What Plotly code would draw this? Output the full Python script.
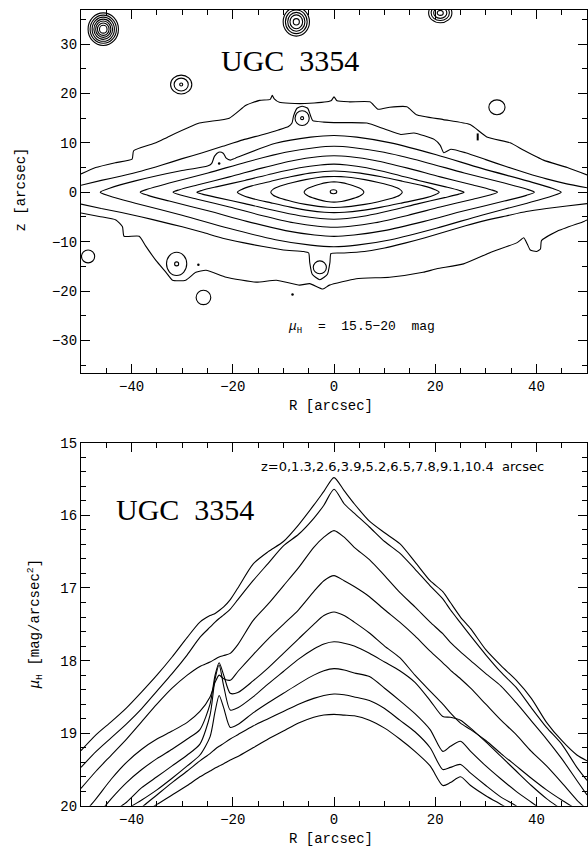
import plotly.graph_objects as go

# ---------------- bottom panel: vertical-cut profiles ----------------
R_GRID = [-50, -47, -44, -41, -38, -35, -32, -29, -26.5, -24.5, -23.5, -22.7, -21.8, -20.5,
          -19, -16, -13, -10, -7, -4, -2, 0, 2, 4, 7, 10, 13, 16, 19, 21.5, 23, 25, 27,
          30, 33, 36, 39, 42, 45, 48, 50]
Z_CUTS = [0, 1.3, 2.6, 3.9, 5.2, 6.5, 7.8, 9.1, 10.4]
MU_Z00 = [19.24, 19.02, 18.84, 18.65, 18.43, 18.20, 17.95, 17.68, 17.47, 17.38, 17.35, 17.31, 17.26, 17.16,
          17.00, 16.67, 16.50, 16.36, 16.13, 15.86, 15.67, 15.48, 15.66, 15.84, 16.08, 16.24, 16.39, 16.64, 16.90,
          17.05, 17.20, 17.40, 17.56, 17.85, 18.07, 18.27, 18.52, 18.85, 19.10, 19.30, 19.38]
MU_Z13 = [19.47, 19.25, 19.06, 18.87, 18.66, 18.42, 18.18, 17.92, 17.68, 17.54, 17.47, 17.42, 17.37, 17.29,
          17.16, 16.90, 16.66, 16.42, 16.26, 16.04, 15.86, 15.64, 15.84, 15.97, 16.16, 16.36, 16.52, 16.74, 16.97,
          17.15, 17.30, 17.48, 17.66, 17.92, 18.16, 18.37, 18.65, 18.92, 19.15, 19.47, 19.65]
MU_Z26 = [19.76, 19.52, 19.30, 19.08, 18.84, 18.60, 18.38, 18.20, 18.08, 18.02, 17.98, 17.95, 17.93, 17.90,
          17.78, 17.45, 17.22, 16.97, 16.72, 16.44, 16.30, 16.21, 16.30, 16.44, 16.61, 16.83, 17.06, 17.26, 17.47,
          17.63, 17.75, 17.88, 18.00, 18.18, 18.35, 18.58, 18.83, 19.08, 19.35, 19.65, 19.85]
MU_Z39 = [20.15, 19.90, 19.63, 19.40, 19.22, 19.08, 18.97, 18.85, 18.70, 18.50, 18.30, 18.20, 18.25, 18.27,
          18.15, 17.92, 17.70, 17.50, 17.30, 17.05, 16.90, 16.83, 16.90, 16.98, 17.12, 17.30, 17.47, 17.66, 17.87,
          18.03, 18.13, 18.25, 18.38, 18.60, 18.82, 19.02, 19.25, 19.45, 19.68, 19.92, 20.05]
MU_Z52 = [20.40, 20.15, 19.90, 19.68, 19.50, 19.35, 19.22, 19.08, 18.95, 18.60, 18.20, 18.03, 18.20, 18.45,
          18.44, 18.28, 18.10, 17.90, 17.70, 17.50, 17.38, 17.33, 17.38, 17.47, 17.62, 17.80, 17.96, 18.20, 18.42,
          18.60, 18.72, 18.86, 18.95, 19.10, 19.28, 19.45, 19.62, 19.78, 19.92, 20.05, 20.15]
MU_Z65 = [20.50, 20.30, 20.10, 19.95, 19.75, 19.60, 19.45, 19.30, 19.15, 18.75, 18.25, 18.06, 18.35, 18.68,
          18.65, 18.50, 18.32, 18.15, 17.98, 17.84, 17.77, 17.74, 17.76, 17.80, 17.90, 18.02, 18.14, 18.30, 18.55,
          18.77, 18.78, 18.82, 18.93, 19.12, 19.32, 19.52, 19.72, 19.90, 20.05, 20.20, 20.30]
MU_Z78 = [20.60, 20.42, 20.25, 20.05, 19.92, 19.78, 19.62, 19.45, 19.30, 19.05, 18.70, 18.48, 18.65, 18.92,
          18.88, 18.72, 18.58, 18.45, 18.32, 18.20, 18.14, 18.11, 18.13, 18.17, 18.22, 18.38, 18.55, 18.73, 18.95,
          19.25, 19.18, 19.11, 19.25, 19.45, 19.63, 19.80, 19.95, 20.10, 20.25, 20.40, 20.50]
MU_Z91 = [20.70, 20.55, 20.40, 20.20, 20.02, 19.85, 19.68, 19.52, 19.38, 19.28, 19.22, 19.18, 19.14, 19.08,
          19.02, 18.90, 18.80, 18.70, 18.60, 18.52, 18.48, 18.46, 18.47, 18.50, 18.55, 18.66, 18.82, 18.98, 19.20,
          19.50, 19.47, 19.43, 19.55, 19.72, 19.88, 20.00, 20.15, 20.30, 20.45, 20.60, 20.70]
MU_Z104 = [20.80, 20.65, 20.50, 20.30, 20.12, 19.98, 19.85, 19.72, 19.60, 19.52, 19.48, 19.45, 19.42, 19.37,
           19.32, 19.20, 19.08, 18.97, 18.86, 18.78, 18.75, 18.74, 18.75, 18.76, 18.82, 18.93, 19.08, 19.25, 19.45,
           19.72, 19.68, 19.60, 19.72, 19.86, 19.98, 20.10, 20.22, 20.35, 20.50, 20.60, 20.70]

# ---------------- top panel: isophotes (R, z in arcsec) ----------------
CONTOUR_LEVELS = [15.5, 16, 16.5, 17, 17.5, 18, 18.5, 19, 19.5, 20]

C16_R = [-5.9, -5.66, -5.02, -3.84, -2.66, -1.48, -0.59, 0, 0.59, 1.48, 2.66, 3.84, 5.02, 5.66, 5.9]
C16_ZU = [0, 0.42, 0.84, 1.3, 1.68, 1.95, 2.08, 2.1, 2.08, 1.95, 1.68, 1.3, 0.84, 0.42, 0]
C16_ZL = [0, -0.4, -0.8, -1.24, -1.6, -1.86, -1.98, -2.0, -1.98, -1.86, -1.6, -1.24, -0.8, -0.4, 0]

C165_R = [-12.5, -12.0, -10.63, -8.13, -5.63, -3.13, -1.25, 0, 1.35, 3.38, 6.08, 8.78, 11.48, 12.96, 13.5]
C165_ZU = [0, 0.64, 1.28, 1.98, 2.56, 2.98, 3.17, 3.2, 3.17, 2.98, 2.56, 1.98, 1.28, 0.64, 0]
C165_ZL = [0, -0.62, -1.23, -1.91, -2.46, -2.86, -3.05, -3.08, -3.05, -2.86, -2.46, -1.91, -1.23, -0.62, 0]

C17_R = [-19.1, -18.34, -16.24, -12.42, -8.6, -4.78, -1.91, 0, 2.08, 5.2, 9.36, 13.52, 17.68, 19.97, 20.8]
C17_ZU = [0, 0.52, 1.29, 2.24, 3.14, 3.87, 4.21, 4.3, 4.21, 3.87, 3.14, 2.24, 1.29, 0.52, 0]
C17_ZL = [0, -0.5, -1.24, -2.15, -3.01, -3.72, -4.05, -4.13, -4.05, -3.72, -3.01, -2.15, -1.24, -0.5, 0]

C175_R = [-27.1, -26.02, -23.04, -17.62, -12.2, -6.78, -2.71, 0, 2.57, 6.43, 11.57, 16.71, 21.85, 24.67, 25.7]
C175_ZU = [0, 0.4, 1.14, 2.39, 3.76, 4.96, 5.53, 5.7, 5.53, 4.96, 3.76, 2.39, 1.14, 0.4, 0]
C175_ZL = [0, -0.38, -1.09, -2.3, -3.61, -4.76, -5.31, -5.47, -5.31, -4.76, -3.61, -2.3, -1.09, -0.38, 0]

C18_R = [-31.8, -30.53, -27.03, -20.67, -14.31, -7.95, -3.18, 0, 3.23, 8.08, 14.54, 21.0, 27.46, 31.01, 32.3]
C18_ZU = [0, 0.52, 1.48, 3.11, 4.88, 6.44, 7.18, 7.4, 7.18, 6.44, 4.88, 3.11, 1.48, 0.52, 0]
C18_ZL = [0, -0.5, -1.42, -2.98, -4.69, -6.18, -6.89, -7.1, -6.89, -6.18, -4.69, -2.98, -1.42, -0.5, 0]

C185_R = [-38.3, -36.77, -32.56, -24.9, -17.24, -9.58, -3.83, 0, 3.96, 9.9, 17.82, 25.74, 33.66, 38.02, 39.6]
C185_ZU = [0, 0.65, 1.86, 3.91, 6.14, 8.09, 9.02, 9.3, 9.02, 8.09, 6.14, 3.91, 1.86, 0.65, 0]
C185_ZL = [0, -0.63, -1.79, -3.75, -5.89, -7.77, -8.66, -8.93, -8.66, -7.77, -5.89, -3.75, -1.79, -0.63, 0]

C19_RU = [-46.2, -44.35, -39.27, -30.03, -25.0, -24.2, -23.6, -22.8, -21.9, -21.3, -20.5, -19.5, -11.55,
          -4.62, 0, 4.49, 11.23, 20.21, 29.19, 38.17, 43.1, 44.9]
C19_ZU = [0, 0.81, 2.3, 4.4, 5.3, 5.8, 7.3, 8.1, 7.9, 6.9, 6.5, 6.9, 9.9, 11.16, 11.5, 11.16, 10.0, 7.59,
          4.83, 2.3, 0.81, 0]
C19_RL = [-46.2, -44.35, -39.27, -30.03, -20.79, -11.55, -4.62, 0, 4.49, 11.23, 20.21, 29.19, 38.17, 43.1, 44.9]
C19_ZL = [0, -0.77, -2.21, -4.64, -7.29, -9.6, -10.71, -11.04, -10.71, -9.6, -7.29, -4.64, -2.21, -0.77, 0]

C195_RU = [-50, -46, -42, -38, -34, -30, -26, -22, -18, -14, -11, -9, -8.3, -8.0, -7.3, -6.3, -5.2, -4.6,
           -4.2, -2, 0, 3, 6.5, 10, 13.2, 15.8, 19.8, 21.0, 21.7, 23.1, 26, 30, 34, 38, 42, 46, 50]
C195_ZU = [1.4, 2.4, 3.3, 4.3, 5.5, 6.8, 8.0, 9.3, 10.6, 11.7, 12.6, 13.3, 14.0, 15.4, 17.0, 17.4, 17.0, 15.4,
           14.5, 14.2, 14.1, 14.1, 14.0, 12.8, 11.7, 12.0, 10.7, 9.5, 8.0, 8.7, 8.0, 6.6, 5.2, 3.9, 2.7, 1.7, 0.9]
C195_RL = [-50, -46, -42, -38, -34, -30, -26, -22, -18, -14, -10, -6, -5.0, -4.8, -4.3, -2.8, -1.3, -0.8,
           -0.6, 2, 6, 10, 14, 18, 22, 26, 30, 34, 38, 42, 46, 50]
C195_ZL = [-2.4, -3.3, -4.1, -5.0, -6.0, -7.0, -8.1, -9.3, -10.2, -11.0, -11.7, -12.0, -12.3, -14.2, -16.6,
           -17.7, -16.6, -14.2, -12.4, -12.3, -12.0, -11.3, -10.3, -9.2, -8.0, -6.8, -5.7, -4.8, -3.9, -3.3,
           -2.8, -2.3]

C20_RU = [-50, -47.1, -43.1, -39.9, -39.6, -35.2, -32.6, -26.6, -20.7, -17.4, -14.7, -12.6, -12.2, -11.8,
          -10.8, -8.8, -4.8, -0.6, 0, 0.6, 3.1, 7.1, 8.7, 11, 14.4, 16.3, 21.6, 26.9, 30.2, 34.8, 37.5, 41.4,
          46.1, 50]
C20_ZU = [3.7, 5.0, 6.0, 6.7, 8.4, 10.0, 11.3, 14.0, 15.0, 17.6, 18.6, 18.8, 19.6, 18.9, 18.2, 18.0, 18.0,
          18.5, 19.3, 18.5, 18.3, 18.3, 16.8, 17.2, 17.3, 15.7, 14.7, 13.7, 11.2, 10.0, 8.5, 6.5, 5.0, 3.5]
C20_RL = [-50, -46.4, -43.1, -41.8, -41.5, -38.5, -37.2, -35.2, -33.2, -31.9, -29.3, -27.3, -25.3, -21.3,
          -15.4, -11.4, -6.8, -4.8, -2.2, -0.9, 4.4, 11, 17.6, 20.3, 25.6, 30.9, 36.2, 37.5, 38.2, 38.8, 40.0,
          40.8, 41.0, 44.1, 49.4, 50]
C20_ZL = [-4.2, -4.9, -5.6, -7.0, -8.9, -8.9, -10.9, -13.8, -16.2, -17.8, -17.8, -16.2, -15.8, -17.2, -18.2,
          -17.8, -18.8, -18.5, -19.6, -18.8, -17.5, -17.2, -16.2, -15.5, -14.5, -12.2, -10.2, -9.2, -10.5, -11.7,
          -12.0, -11.5, -9.8, -7.9, -5.9, -5.6]

# small closed isophotes (stars, knots, the 15.5 mag core): centre and semi-axes in arcsec
RING_R = [-45.6] * 7 + [-7.45] * 5 + [21.0] * 4 + [-30.2] * 3 + [-6.3] * 2 + [-31.1] * 2 + \
         [-48.6, -25.8, -2.8, 32.2, -0.1]
RING_Z = [33.0] * 7 + [34.5] * 5 + [36.3] * 4 + [21.8] * 3 + [15.0] * 2 + [-14.5] * 2 + \
         [-13.0, -21.3, -15.2, 17.2, 0.1]
RING_RX = [3.0, 2.6, 2.2, 1.85, 1.5, 1.15, 0.75,
           2.6, 2.15, 1.7, 1.25, 0.6,
           2.3, 1.8, 1.3, 0.6,
           2.1, 1.4, 0.3,
           1.4, 0.3,
           2.0, 0.4,
           1.3, 1.45, 1.3, 1.6, 0.65]
RING_RY = [3.3, 2.85, 2.45, 2.05, 1.65, 1.25, 0.8,
           2.9, 2.4, 1.9, 1.4, 0.65,
           2.0, 1.55, 1.1, 0.5,
           1.9, 1.3, 0.3,
           1.5, 0.3,
           2.35, 0.4,
           1.3, 1.45, 1.3, 1.5, 0.4]
DOT_R = [-22.7, -26.8, -8.2]
DOT_Z = [5.8, -14.7, -20.7]
DASH_R = [28.4]
DASH_Z = [11.2]

LINE = dict(color="black", width=1.1)
fig = go.Figure()

# profiles
for mu in [MU_Z00, MU_Z13, MU_Z26, MU_Z39, MU_Z52, MU_Z65, MU_Z78, MU_Z91, MU_Z104]:
    fig.add_trace(go.Scatter(x=R_GRID, y=mu, mode="lines", xaxis="x2", yaxis="y2",
                             line=dict(LINE, shape="spline", smoothing=0.7),
                             hoverinfo="skip", showlegend=False))

# closed isophotes
closed = [(C16_R, C16_ZU, C16_R, C16_ZL), (C165_R, C165_ZU, C165_R, C165_ZL),
          (C17_R, C17_ZU, C17_R, C17_ZL), (C175_R, C175_ZU, C175_R, C175_ZL),
          (C18_R, C18_ZU, C18_R, C18_ZL), (C185_R, C185_ZU, C185_R, C185_ZL),
          (C19_RU, C19_ZU, C19_RL, C19_ZL)]
for ru, zu, rl, zl in closed:
    xs = list(ru) + list(rl[::-1])[1:]
    ys = list(zu) + list(zl[::-1])[1:]
    fig.add_trace(go.Scatter(x=xs, y=ys, mode="lines", xaxis="x", yaxis="y",
                             line=dict(LINE, shape="spline", smoothing=0.8),
                             hoverinfo="skip", showlegend=False))

# open outer isophotes
for rr, zz in [(C195_RU, C195_ZU), (C195_RL, C195_ZL), (C20_RU, C20_ZU), (C20_RL, C20_ZL)]:
    fig.add_trace(go.Scatter(x=rr, y=zz, mode="lines", xaxis="x", yaxis="y",
                             line=dict(LINE, shape="spline", smoothing=0.5),
                             hoverinfo="skip", showlegend=False))

fig.add_trace(go.Scatter(x=DOT_R, y=DOT_Z, mode="markers", xaxis="x", yaxis="y",
                         marker=dict(color="black", size=2.5), hoverinfo="skip", showlegend=False))
fig.add_trace(go.Scatter(x=DASH_R, y=DASH_Z, mode="markers", xaxis="x", yaxis="y",
                         marker=dict(symbol="line-ns", size=5, line=dict(color="black", width=2)),
                         hoverinfo="skip", showlegend=False))

shapes = []
for cx, cy, rx, ry in zip(RING_R, RING_Z, RING_RX, RING_RY):
    shapes.append(dict(type="circle", xref="x", yref="y", x0=cx - rx, x1=cx + rx, y0=cy - ry, y1=cy + ry,
                       line=dict(color="black", width=1.1), layer="above"))

TICKFONT = dict(family="Liberation Mono", size=14, color="black")
AX = dict(showline=True, linecolor="black", linewidth=1.2, mirror="allticks", ticks="inside",
          ticklen=9, tickwidth=1.2, tickcolor="black", showgrid=False, zeroline=False,
          tickfont=TICKFONT)
XDOM = [81 / 588, 587 / 588]
MINOR = dict(ticks="inside", ticklen=5, tickcolor="black", tickwidth=1.2)

fig.update_layout(
    width=588, height=860, margin=dict(l=0, r=0, t=0, b=0),
    paper_bgcolor="white", plot_bgcolor="white", showlegend=False,
    xaxis=dict(AX, domain=XDOM, range=[-50, 50], dtick=20, tick0=0, anchor="y",
               minor=dict(MINOR, dtick=5, tick0=0)),
    yaxis=dict(AX, domain=[1 - 373 / 860, 1 - 3 / 860], range=[-36.6, 36.9], dtick=10, tick0=0, anchor="x",
               minor=dict(MINOR, dtick=5, tick0=0)),
    xaxis2=dict(AX, domain=XDOM, range=[-50, 50], dtick=20, tick0=0, anchor="y2",
                minor=dict(MINOR, dtick=5, tick0=0)),
    yaxis2=dict(AX, domain=[1 - 814 / 860, 1 - 444 / 860], range=[20, 15], dtick=1, tick0=15, anchor="x2",
                minor=dict(MINOR, dtick=0.2, tick0=15)),
    shapes=shapes,
)

NB = "\u00a0"
ann = [
    dict(text="UGC" + NB * 2 + "3354", x=290 / 588, y=1 - 55 / 860,
         font=dict(family="Liberation Serif", size=30, color="black")),
    dict(text="UGC" + NB * 2 + "3354", x=185 / 588, y=1 - 512 / 860,
         font=dict(family="Liberation Serif", size=30, color="black")),
    dict(text="<i>μ</i><sub>H</sub>" + NB * 2 + "=" + NB * 2 + "15.5−20" + NB * 2 + "mag",
         x=361 / 588, y=1 - 327 / 860, font=dict(family="Liberation Mono", size=13, color="black")),
    dict(text="z=" + ",".join(str(v) for v in Z_CUTS) + NB * 2 + "arcsec",
         x=402 / 588, y=1 - 468 / 860, font=dict(family="DejaVu Sans", size=13, color="black")),
    dict(text="R [arcsec]", x=331 / 588, y=1 - 407 / 860,
         font=dict(family="Liberation Mono", size=14, color="black")),
    dict(text="R [arcsec]", x=331 / 588, y=1 - 848 / 860,
         font=dict(family="Liberation Mono", size=14, color="black")),
    dict(text="z [arcsec]", x=21 / 588, y=1 - 186 / 860, textangle=-90,
         font=dict(family="Liberation Mono", size=14, color="black")),
    dict(text="<i>μ</i><sub>H</sub> [mag/arcsec<sup>2</sup>]", x=35 / 588, y=1 - 629 / 860, textangle=-90,
         font=dict(family="Liberation Mono", size=14, color="black")),
]
for a in ann:
    a.update(xref="paper", yref="paper", xanchor="center", yanchor="middle", showarrow=False)
fig.update_layout(annotations=ann)

fig.write_html("out.html")
